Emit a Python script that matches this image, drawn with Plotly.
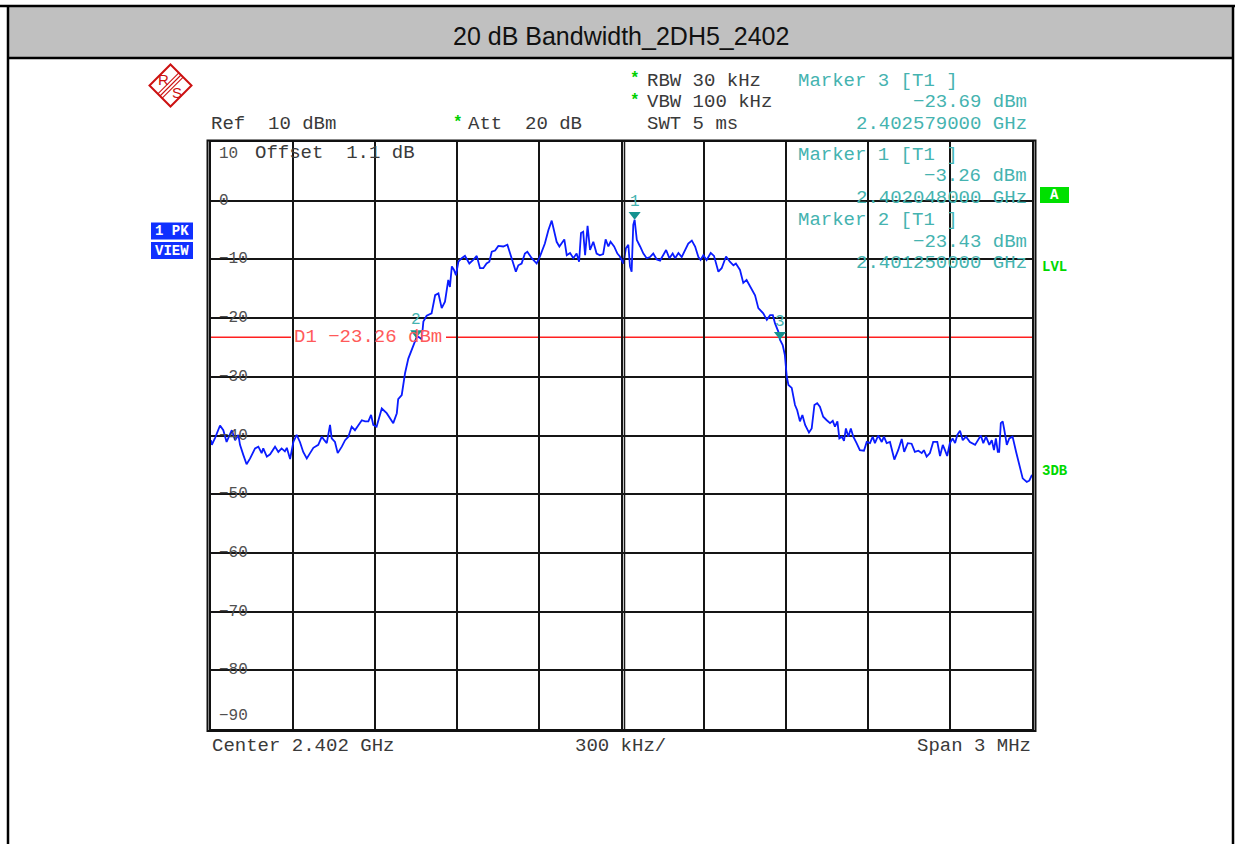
import plotly.graph_objects as go

# ---------------- data ----------------
title_text = "20 dB Bandwidth_2DH5_2402"

freq_mhz = [
    2400.500, 2400.503, 2400.515, 2400.533, 2400.545, 2400.557, 2400.576, 2400.588, 2400.600, 2400.606,
    2400.618, 2400.630, 2400.643, 2400.661, 2400.673, 2400.685, 2400.691, 2400.704, 2400.716, 2400.734,
    2400.746, 2400.758, 2400.770, 2400.777, 2400.789, 2400.801, 2400.813, 2400.825, 2400.837, 2400.850,
    2400.862, 2400.874, 2400.892, 2400.905, 2400.914, 2400.923, 2400.935, 2400.941, 2400.953, 2400.963,
    2400.978, 2400.990, 2401.002, 2401.014, 2401.026, 2401.038, 2401.051, 2401.063, 2401.075, 2401.085,
    2401.093, 2401.105, 2401.124, 2401.142, 2401.154, 2401.166, 2401.179, 2401.184, 2401.197, 2401.209,
    2401.221, 2401.233, 2401.250, 2401.258, 2401.270, 2401.276, 2401.288, 2401.306, 2401.319, 2401.331,
    2401.343, 2401.355, 2401.367, 2401.373, 2401.380, 2401.388, 2401.395, 2401.404, 2401.416, 2401.428,
    2401.444, 2401.458, 2401.471, 2401.483, 2401.495, 2401.507, 2401.517, 2401.526, 2401.538, 2401.550,
    2401.568, 2401.583, 2401.593, 2401.605, 2401.614, 2401.623, 2401.635, 2401.647, 2401.656, 2401.672,
    2401.690, 2401.702, 2401.708, 2401.720, 2401.733, 2401.745, 2401.753, 2401.763, 2401.773, 2401.781,
    2401.791, 2401.800, 2401.812, 2401.824, 2401.836, 2401.845, 2401.852, 2401.860, 2401.867, 2401.876,
    2401.885, 2401.897, 2401.909, 2401.921, 2401.933, 2401.942, 2401.952, 2401.960, 2401.973, 2401.985,
    2401.994, 2402.007, 2402.016, 2402.025, 2402.031, 2402.037, 2402.043, 2402.048, 2402.056, 2402.068,
    2402.080, 2402.092, 2402.104, 2402.116, 2402.129, 2402.141, 2402.153, 2402.163, 2402.175, 2402.187,
    2402.196, 2402.208, 2402.220, 2402.232, 2402.244, 2402.257, 2402.269, 2402.281, 2402.289, 2402.299,
    2402.311, 2402.326, 2402.338, 2402.354, 2402.366, 2402.382, 2402.396, 2402.409, 2402.418, 2402.433,
    2402.445, 2402.457, 2402.470, 2402.488, 2402.500, 2402.506, 2402.518, 2402.531, 2402.543, 2402.553,
    2402.561, 2402.573, 2402.579, 2402.589, 2402.597, 2402.604, 2402.610, 2402.622, 2402.634, 2402.642,
    2402.652, 2402.661, 2402.671, 2402.685, 2402.695, 2402.705, 2402.715, 2402.725, 2402.737, 2402.750,
    2402.762, 2402.772, 2402.780, 2402.789, 2402.796, 2402.805, 2402.813, 2402.820, 2402.829, 2402.838,
    2402.847, 2402.859, 2402.871, 2402.886, 2402.896, 2402.908, 2402.918, 2402.926, 2402.938, 2402.951,
    2402.959, 2402.969, 2402.981, 2402.997, 2403.011, 2403.024, 2403.033, 2403.046, 2403.060, 2403.072,
    2403.085, 2403.097, 2403.105, 2403.115, 2403.127, 2403.139, 2403.154, 2403.164, 2403.174, 2403.182,
    2403.190, 2403.200, 2403.210, 2403.219, 2403.227, 2403.237, 2403.247, 2403.259, 2403.273, 2403.292,
    2403.313, 2403.322, 2403.332, 2403.344, 2403.353, 2403.361, 2403.368, 2403.375, 2403.380, 2403.386,
    2403.393, 2403.399, 2403.408, 2403.417, 2403.429, 2403.442, 2403.454, 2403.466, 2403.481, 2403.490,
    2403.500,
]

level_dbm = [
    -40.8, -41.6, -40.4, -38.3, -39.1, -41.1, -39.1, -40.8, -39.9, -41.6,
    -43.3, -44.9, -43.9, -42.2, -41.9, -43.0, -42.2, -43.6, -43.2, -41.9,
    -42.8, -42.2, -42.7, -42.1, -44.0, -41.1, -39.9, -41.1, -42.8, -43.9,
    -43.0, -42.1, -41.6, -40.2, -40.8, -41.3, -38.2, -40.5, -41.1, -43.0,
    -41.9, -40.8, -40.2, -38.5, -39.1, -38.2, -37.4, -37.6, -37.6, -36.5,
    -38.2, -38.5, -35.4, -36.2, -37.0, -37.9, -36.2, -33.8, -33.1, -29.4,
    -26.9, -25.4, -23.43, -23.2, -23.6, -20.6, -19.6, -19.2, -16.1, -15.8,
    -18.3, -17.2, -13.5, -14.7, -11.2, -11.8, -12.7, -10.4, -9.8, -9.4,
    -10.7, -10.1, -9.4, -11.5, -11.5, -10.7, -10.4, -8.7, -8.5, -7.7,
    -7.8, -7.5, -9.0, -10.4, -12.1, -11.0, -10.7, -9.0, -8.7, -9.8,
    -10.7, -9.5, -8.7, -7.3, -5.0, -3.4, -5.0, -7.0, -7.8, -7.3,
    -6.6, -9.3, -8.9, -9.8, -9.0, -10.4, -5.5, -5.3, -9.3, -4.3,
    -8.4, -7.0, -9.0, -9.3, -9.1, -6.6, -7.8, -7.0, -7.8, -9.0,
    -9.5, -10.7, -8.1, -7.5, -11.2, -12.1, -4.1, -3.26, -6.7, -7.8,
    -9.0, -9.8, -9.6, -9.0, -10.0, -10.2, -9.3, -8.4, -9.8, -9.0,
    -9.8, -8.9, -9.6, -8.4, -7.3, -6.8, -7.8, -9.6, -10.1, -9.3,
    -10.1, -8.9, -9.4, -12.1, -11.5, -9.5, -10.4, -11.0, -10.7, -11.8,
    -14.0, -13.5, -14.7, -16.1, -18.3, -18.6, -19.2, -20.3, -19.5, -19.5,
    -20.9, -22.3, -23.69, -24.6, -26.3, -30.0, -31.4, -31.9, -34.8, -35.7,
    -37.6, -36.5, -38.2, -39.5, -38.8, -34.8, -34.5, -35.1, -36.8, -37.4,
    -37.9, -37.5, -38.5, -37.6, -40.5, -40.2, -40.9, -38.8, -40.2, -38.8,
    -40.2, -41.3, -42.5, -42.6, -41.1, -41.3, -40.2, -41.3, -40.0, -41.1,
    -40.2, -41.3, -41.1, -44.1, -42.5, -40.6, -42.8, -41.3, -41.4, -42.8,
    -42.6, -43.0, -42.5, -43.6, -43.0, -41.1, -41.1, -43.5, -41.6, -42.5,
    -43.5, -41.3, -40.5, -41.3, -39.9, -39.2, -40.8, -40.2, -41.1, -41.6,
    -40.0, -41.3, -40.2, -41.6, -40.8, -42.5, -40.5, -42.8, -42.8, -37.9,
    -37.6, -39.1, -41.6, -40.5, -40.2, -42.8, -45.3, -47.3, -47.9, -47.7,
    -46.7,
]

marker_ids = ["1", "2", "3"]
marker_freq_mhz = [2402.048, 2401.250, 2402.579]
marker_level_dbm = [-3.26, -23.43, -23.69]

d1_level_dbm = -23.26

ref_level = 10
y_min, y_max = -90, 10
y_tick_values = [10, 0, -10, -20, -30, -40, -50, -60, -70, -80, -90]
center_mhz = 2402.0
span_mhz = 3.0
div_mhz = 0.3

# ---------------- layout helpers ----------------
W, H = 1235, 844


def px(x):
    return x / W


def py(y):
    return 1 - y / H


X0, X1 = 211, 1032      # plot area, page pixels
Y0, Y1 = 142, 729

MONO = "Liberation Mono, Courier New, monospace"
SANS = "Liberation Sans, Arial, sans-serif"
GRAY = "#3a3a3a"
TEAL = "#45b3b0"
TEAL_DARK = "#15928f"
GREEN = "#00d000"
RED = "#ff2020"
BLUE_TRACE = "#0a1cff"
MINUS = "\u2212"


def mtxt(v):
    return f"{v:.2f}".replace("-", MINUS)


fig = go.Figure()

fig.add_trace(go.Scatter(
    x=freq_mhz, y=level_dbm, mode="lines",
    line=dict(color=BLUE_TRACE, width=1.8),
    hoverinfo="skip", showlegend=False,
))

# marker triangles: tip on the trace point (rotated up-triangle, shifted up by standoff)
fig.add_trace(go.Scatter(
    x=marker_freq_mhz, y=marker_level_dbm, mode="markers",
    marker=dict(symbol="triangle-up", angle=180, size=10.5, color=TEAL_DARK,
                standoff=5.25, line=dict(width=0)),
    hoverinfo="skip", showlegend=False,
))

annotations = []
shapes = []


def txt(text, x, y, anchor="left", color=GRAY, size=19, font=MONO, bold=False):
    f = dict(family=font, size=size, color=color)
    if bold:
        f["weight"] = "bold"
    annotations.append(dict(
        text=text, x=px(x), y=py(y), xref="paper", yref="paper",
        xanchor=anchor, yanchor="middle", showarrow=False, font=f))


# title band and outer frame
shapes.append(dict(type="rect", xref="paper", yref="paper",
                   x0=px(8), x1=px(1233), y0=py(7), y1=py(57.5),
                   fillcolor="#c0c0c0", line=dict(width=0), layer="below"))
for (xa, ya, xb, yb) in [(0, 6, 1235, 6), (8, 5, 8, 844), (1233, 5, 1233, 844), (8, 58, 1233, 58)]:
    shapes.append(dict(type="line", xref="paper", yref="paper",
                       x0=px(xa), y0=py(ya), x1=px(xb), y1=py(yb),
                       line=dict(color="black", width=2.5)))
txt(title_text, 621, 36, anchor="center", color="#111111", size=25, font=SANS)

# R&S logo
lx, ly = px(170.5), py(85.5)
shapes.append(dict(type="path", xref="paper", yref="paper", xsizemode="pixel", ysizemode="pixel",
                   xanchor=lx, yanchor=ly, path="M 0 21 L 21 0 L 0 -21 L -21 0 Z",
                   line=dict(color="#cc1111", width=2)))
for k in (-2.2, 0, 2.2):
    shapes.append(dict(type="line", xref="paper", yref="paper", xsizemode="pixel", ysizemode="pixel",
                       xanchor=lx, yanchor=ly, x0=10.5 + k, y0=10.5 - k, x1=-10.5 + k, y1=-10.5 - k,
                       line=dict(color="#cc1111", width=1.1)))
txt("R", 163.5, 79.5, anchor="center", color="#cc1111", size=15, font=SANS)
txt("S", 176.5, 92.5, anchor="center", color="#cc1111", size=15, font=SANS)

# header texts
txt(f"Ref  {ref_level} dBm", 209, 124)
txt("*", 457.5, 123, anchor="center", color=GREEN, size=16, bold=True)
txt("Att  20 dB", 466, 124)
txt("*", 635, 79, anchor="center", color=GREEN, size=16, bold=True)
txt("RBW 30 kHz", 645, 81)
txt("*", 635, 101, anchor="center", color=GREEN, size=16, bold=True)
txt("VBW 100 kHz", 645, 102)
txt("SWT 5 ms", 645, 124)

# marker readouts (marker 3 on top, 1 and 2 inside the grid)
readout_rows = {"3": 81, "1": 155, "2": 220}
for mid, f, lv in zip(marker_ids, marker_freq_mhz, marker_level_dbm):
    y = readout_rows[mid]
    txt(f"Marker {mid} [T1 ]", 796, y, color=TEAL)
    txt(f"{mtxt(lv)} dBm", 1029, y + 21.5, anchor="right", color=TEAL)
    txt(f"{f / 1000:.9f} GHz", 1029, y + 43, anchor="right", color=TEAL)

txt("Offset  1.1 dB", 253, 153)

# footer
txt(f"Center {center_mhz / 1000:.3f} GHz", 210, 746)
txt(f"{div_mhz * 1000:.0f} kHz/", 621, 746, anchor="center")
txt(f"Span {span_mhz:.0f} MHz", 1033, 746, anchor="right")

# side boxes
for (label, yc) in [("1 PK", 231), ("VIEW", 250.5)]:
    shapes.append(dict(type="rect", xref="paper", yref="paper",
                       x0=px(151), x1=px(193), y0=py(yc - 8.5), y1=py(yc + 8.5),
                       fillcolor="#1030ff", line=dict(width=0)))
    txt(label, 172, yc, anchor="center", color="white", size=14, bold=True)
shapes.append(dict(type="rect", xref="paper", yref="paper",
                   x0=px(1040), x1=px(1069), y0=py(187), y1=py(203),
                   fillcolor="#00e000", line=dict(width=0)))
txt("A", 1054.5, 195, anchor="center", color="white", size=14, bold=True)
for (label, yc) in [("LVL", 267), ("3DB", 471)]:
    txt(label, 1054.5, yc, anchor="center", color="#00d800", size=14, bold=True)

# plot frame (outer double border) and center double line
shapes.append(dict(type="rect", xref="paper", yref="paper",
                   x0=px(207.5), x1=px(1035.5), y0=py(731), y1=py(140.5),
                   line=dict(color="#111111", width=2)))
shapes.append(dict(type="line", xref="paper", yref="paper",
                   x0=px(624.5), x1=px(624.5), y0=py(Y0), y1=py(Y1),
                   line=dict(color="#1a1a1a", width=1.5)))

# y tick labels inside the grid, with gaps in the grid lines
for v in y_tick_values:
    label = str(v).replace("-", MINUS)
    shift = 0
    if v == y_max:
        shift = -12
    elif v == y_min:
        shift = 13
    nch = len(label)
    if v not in (y_max, y_min):
        shapes.append(dict(type="rect", xref="paper", yref="y", ysizemode="pixel",
                           yanchor=v, y0=-2, y1=2, x0=px(215.5), x1=px(217 + nch * 9.6 + 3),
                           fillcolor="white", line=dict(width=0), layer="between"))
    annotations.append(dict(text=label, x=px(217), y=v, xref="paper", yref="y",
                            xanchor="left", yanchor="middle", yshift=shift, showarrow=False,
                            font=dict(family=MONO, size=16, color="#505050")))

# D1 display line with a gap for its label
shapes.append(dict(type="line", xref="paper", yref="y", x0=px(X0), x1=px(291),
                   y0=d1_level_dbm, y1=d1_level_dbm, line=dict(color=RED, width=1.5), layer="between"))
shapes.append(dict(type="line", xref="paper", yref="y", x0=px(446), x1=px(X1),
                   y0=d1_level_dbm, y1=d1_level_dbm, line=dict(color=RED, width=1.5), layer="between"))
annotations.append(dict(text=f"D1 {mtxt(d1_level_dbm)} dBm", x=px(292), y=d1_level_dbm,
                        xref="paper", yref="y", xanchor="left", yanchor="middle", showarrow=False,
                        font=dict(family=MONO, size=19, color="#ff5a5a")))

# marker numbers above the triangles
for mid, f, lv in zip(marker_ids, marker_freq_mhz, marker_level_dbm):
    annotations.append(dict(text=mid, x=f, y=lv, xref="x", yref="y", xanchor="center",
                            yanchor="middle", yshift=18, showarrow=False,
                            font=dict(family=MONO, size=16, color=TEAL)))

fig.update_layout(
    width=W, height=H, margin=dict(l=0, r=0, t=0, b=0),
    paper_bgcolor="white", plot_bgcolor="white",
    showlegend=False,
    xaxis=dict(domain=[px(X0), px(X1)],
               range=[center_mhz - span_mhz / 2, center_mhz + span_mhz / 2],
               tick0=center_mhz - span_mhz / 2, dtick=div_mhz,
               showgrid=True, gridcolor="#151515", gridwidth=1.7,
               showticklabels=False, ticks="", zeroline=False,
               showline=True, mirror=True, linecolor="#111111", linewidth=1.5,
               fixedrange=True),
    yaxis=dict(domain=[py(Y1), py(Y0)], range=[y_min, y_max],
               tick0=y_min, dtick=10,
               showgrid=True, gridcolor="#151515", gridwidth=1.7,
               showticklabels=False, ticks="", zeroline=False,
               showline=True, mirror=True, linecolor="#111111", linewidth=1.5,
               fixedrange=True),
    annotations=annotations,
    shapes=shapes,
)

# the page body's default 8 px margin would shift and clip the 1235x844 figure
fig.write_html(
    "out.html",
    config={"displayModeBar": False, "responsive": False},
    post_script="document.body.style.margin='0';document.body.style.overflow='hidden';",
)
